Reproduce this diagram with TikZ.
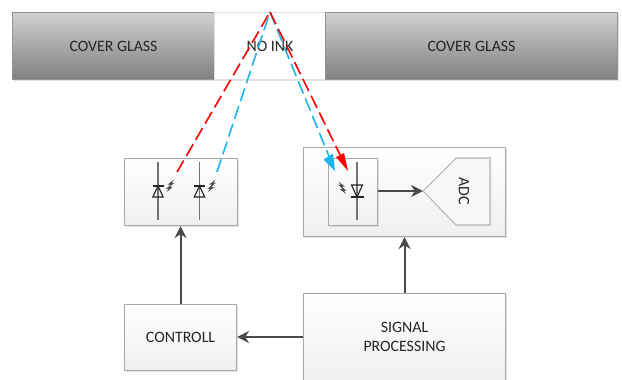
\documentclass[tikz,border=0pt]{standalone}
\usepackage{fontspec}
\setmainfont{Carlito}
\usetikzlibrary{arrows.meta,shadows,calc}
\definecolor{rayred}{HTML}{FF0000}
\definecolor{rayblue}{HTML}{1CB5EE}
\definecolor{linegrey}{HTML}{4A4A4A}
\definecolor{edgegrey}{HTML}{A8A8A8}
\definecolor{txt}{HTML}{262626}
\def\px{0.75pt}
\tikzset{
  softshadow/.style={general shadow={shadow xshift=1pt,shadow yshift=-1pt,fill=black!22,opacity=.5}},
  panel/.style={draw=edgegrey,line width=0.8pt,rectangle,inner sep=0pt,anchor=north west,align=center,
    top color=white,bottom color=black!6,softshadow,font=\fontsize{11.9}{14.5}\selectfont,text=txt},
  glass/.style={panel,draw=black!42,top color=black!18,bottom color=black!50},
  noink/.style={panel,draw=black!12,top color=white,bottom color=white},
  flow/.style={draw=linegrey,line width=1.5pt,-{Stealth[length=9pt,width=9pt]}},
  wire/.style={draw=black!55,line width=1.1pt},
  sym/.style={draw=black!85,line width=0.85pt,line join=miter},
  flash/.style={draw=black!70,line width=0.4pt,fill=black!70},
  redray/.style={draw=rayred,line width=1.2pt,dash pattern=on 10pt off 4pt},
  blueray/.style={draw=rayblue,line width=1.2pt,dash pattern=on 10pt off 4pt},
  redhead/.style={draw=none,fill=rayred},
  bluehead/.style={draw=none,fill=rayblue}
}
\newcommand{\flashes}[3]{%
  \begin{scope}[shift={(#1,#2)},xscale=#3*.85,yscale=.85]
    \draw[flash] (1,-3) -- (3,-6) -- (0,-5.5) -- (5,-9.5) -- (3,-6.5) -- (6,-7) -- cycle;
    \draw[flash] (-1,2) -- (1,-1) -- (-2,-.5) -- (3,-4.5) -- (1,-1.5) -- (4,-2) -- cycle;
  \end{scope}}
\begin{document}
\begin{tikzpicture}[x=\px,y=-\px]
\clip (0,0) rectangle (622,379);
% cover glass row
\node[glass,minimum width=202*\px,minimum height=67*\px] (gl) at (12,12) {COVER GLASS};
\node[noink,minimum width=111*\px,minimum height=67*\px] (ni) at (214,12) {NO INK};
\node[glass,minimum width=292*\px,minimum height=67*\px] (gr) at (325,12) {COVER GLASS};
% blocks
\node[panel,minimum width=113*\px,minimum height=67*\px] (led) at (124,158) {};
\node[panel,minimum width=202*\px,minimum height=89*\px] (det) at (303,147) {};
\node[panel,minimum width=49*\px,minimum height=67*\px] (pd) at (328,158) {};
\node[panel,minimum width=112*\px,minimum height=66*\px] (ctl) at (124,304) {CONTROLL};
\node[panel,minimum width=202*\px,minimum height=87*\px] (sig) at (303,293) {SIGNAL\\PROCESSING};
% ADC
\path[draw=black!28,line width=0.8pt,fill=black!3,general shadow={shadow xshift=1pt,shadow yshift=-1pt,fill=black!18,opacity=.5}]
  (423,191) -- (456,158) -- (490,158) -- (490,225) -- (456,225) -- cycle;
\node[rotate=-90,font=\fontsize{11.9}{13}\selectfont,text=txt] (adc) at (464,191) {ADC};
\coordinate (adctip) at (423,191);
% connectors
\draw[flow] (ctl.north) ++(0,0) coordinate (a1) -- (a1 |- led.south);
\draw[flow] ($(sig.north west)!.5!(sig.north east)$) -- ($(det.south west)!.5!(det.south east)$);
\coordinate (sigl) at (sig.west |- 0,337);
\coordinate (ctlr) at (ctl.east |- 0,337);
\draw[flow] (sigl) -- (ctlr);
\coordinate (pdr) at (pd.east |- adctip);
\draw[flow] (pdr) -- (adctip);
% LED symbols
\draw[wire] (158,162) -- (158,220);
\draw[wire] (199.5,162) -- (199.5,220);
\draw[sym] (152.5,186) -- (163.5,186);
\draw[sym] (158,186) -- (152.8,197) -- (163.2,197) -- cycle;
\draw[sym] (194,186) -- (205,186);
\draw[sym] (199.5,186) -- (194.3,197) -- (204.7,197) -- cycle;
\flashes{168.5}{189}{1}
\flashes{210}{189}{1}
% photodiode symbol
\draw[wire] (357,162) -- (357,220);
\draw[sym] (351,197) -- (364,197);
\draw[sym] (351.5,185) -- (362.5,185) -- (357,197) -- cycle;
\flashes{344}{191}{-1}
% rays
\coordinate (apex) at (270,12);
\coordinate (rl) at (177,172);
\coordinate (bl) at (217,172);
\coordinate (rr) at (348,171);
\coordinate (br) at (335,171);
\draw[redray] (rl) -- (apex);
\draw[blueray] (bl) -- (apex);
\draw[blueray] (apex) -- ($(apex)!.92!(br)$);
\draw[redray] (apex) -- ($(apex)!.92!(rr)$);
\fill[bluehead] (br) -- (323.5,159.5) -- (333,153.5) -- cycle;
\fill[redhead] (rr) -- (336,157) -- (344,153) -- cycle;
\end{tikzpicture}
\end{document}
